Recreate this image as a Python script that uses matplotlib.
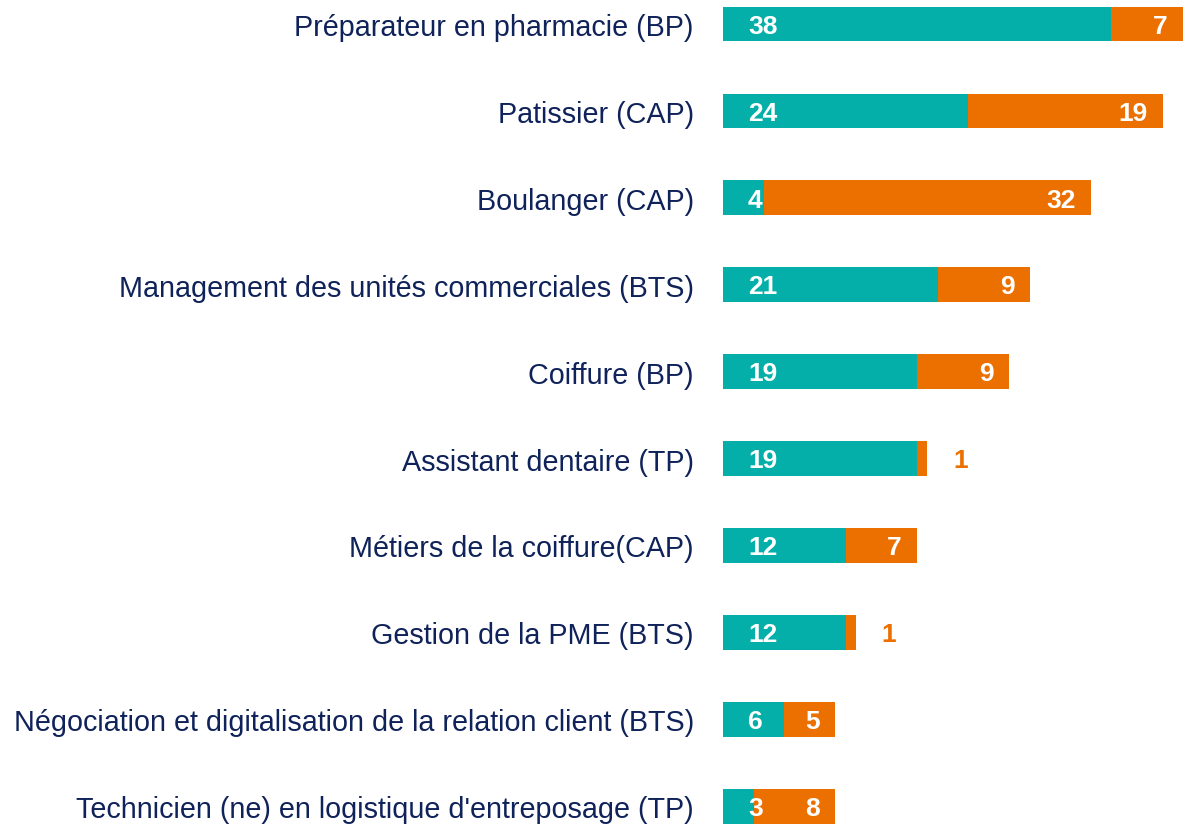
import matplotlib
matplotlib.use('Agg')
import matplotlib.pyplot as plt

categories = [
    "Préparateur en pharmacie (BP)",
    "Patissier (CAP)",
    "Boulanger (CAP)",
    "Management des unités commerciales (BTS)",
    "Coiffure (BP)",
    "Assistant dentaire (TP)",
    "Métiers de la coiffure(CAP)",
    "Gestion de la PME (BTS)",
    "Négociation et digitalisation de la relation client (BTS)",
    "Technicien (ne) en logistique d'entreposage (TP)",
]
teal_vals = [38, 24, 4, 21, 19, 19, 12, 12, 6, 3]
orange_vals = [7, 19, 32, 9, 9, 1, 7, 1, 5, 8]

TEAL = '#04AFA9'
ORANGE = '#EC7000'
NAVY = '#0F2259'

plt.rcParams['font.family'] = ['Liberation Sans', 'DejaVu Sans']

fig = plt.figure(figsize=(11.83, 8.28), dpi=100)
ax = fig.add_axes([723 / 1183, 0, 1 - 723 / 1183, 1])

y = list(range(len(categories)))
ax.barh(y, teal_vals, height=0.40, color=TEAL)
ax.barh(y, orange_vals, left=teal_vals, height=0.40, color=ORANGE)

for i, (t, o) in enumerate(zip(teal_vals, orange_vals)):
    ax.text(2.45, i + 0.02, str(t), color='white', fontsize=19, fontweight='bold',
            ha='left', va='center')
    end = t + o
    if o >= 3:
        ax.text(end - 1.5, i + 0.02, str(o), color='white', fontsize=19,
                fontweight='bold', ha='right', va='center')
    else:
        ax.text(end + 2.5, i + 0.02, str(o), color=ORANGE, fontsize=19,
                fontweight='bold', ha='left', va='center', clip_on=False)

ax.set_xlim(0, 45)
ax.set_ylim(9.24, -0.288)
ax.set_yticks(y)
ax.set_yticklabels(categories, fontsize=20.7, color=NAVY)
ax.tick_params(axis='y', length=0, pad=21)
ax.set_xticks([])
for s in ax.spines.values():
    s.set_visible(False)

fig.savefig('out.png', dpi=100)
